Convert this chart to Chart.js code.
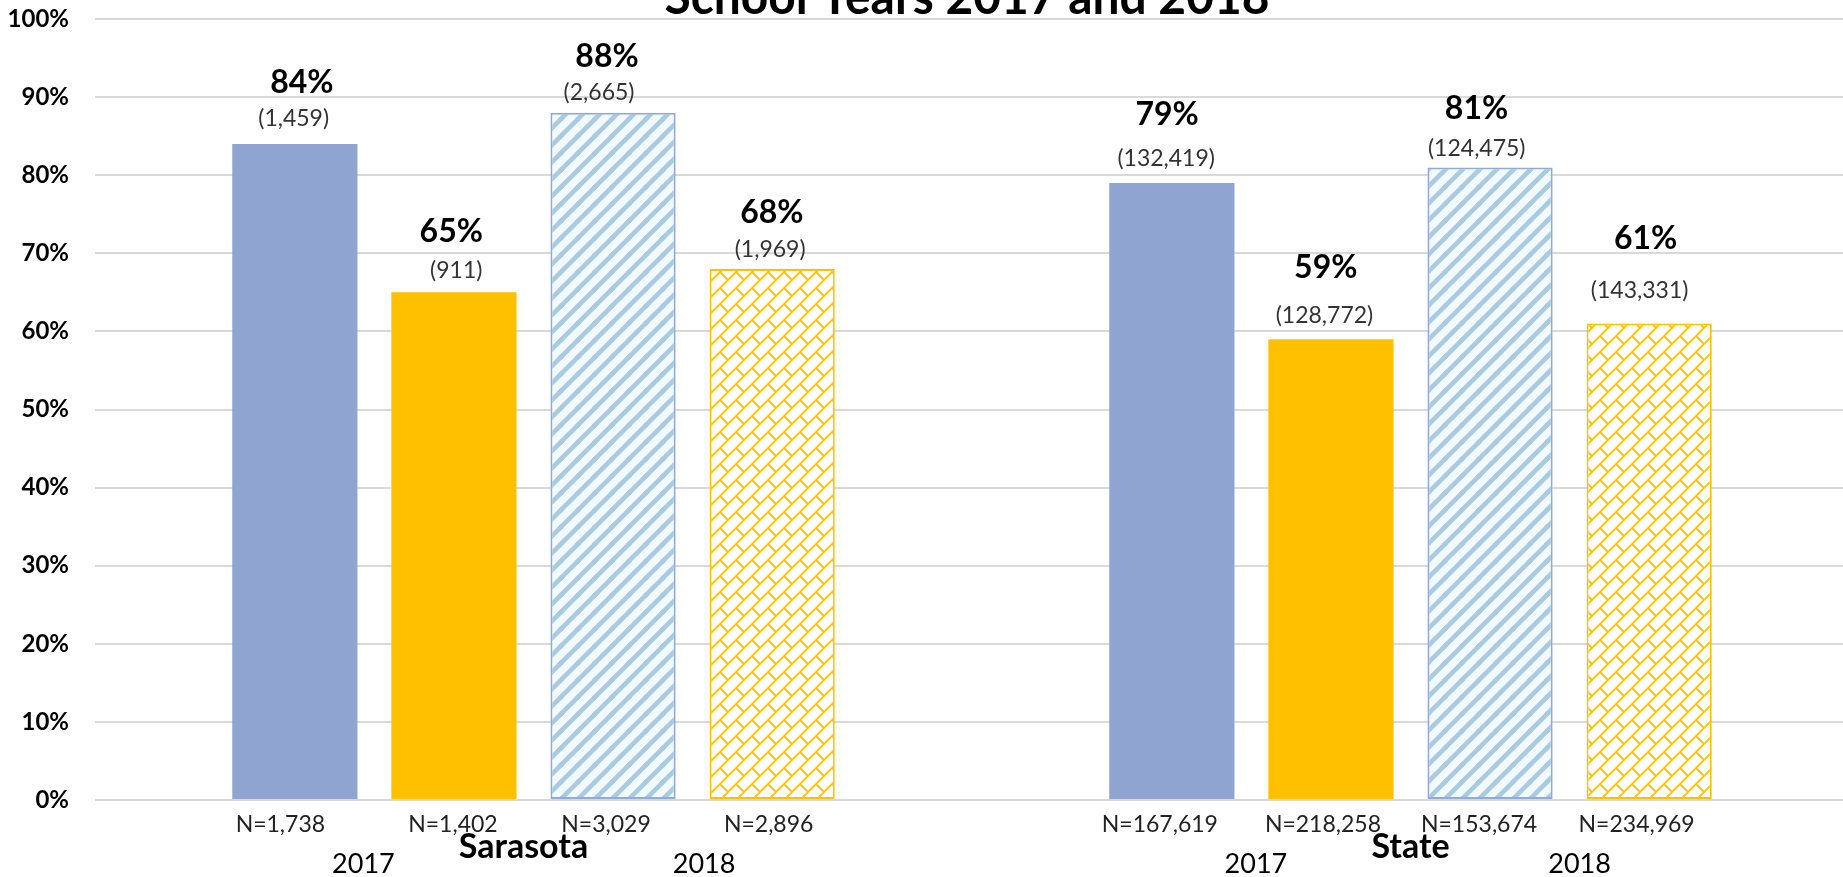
<!DOCTYPE html>
<html><head><meta charset="utf-8">
<script src="https://cdn.jsdelivr.net/npm/chart.js@4/dist/chart.umd.min.js"></script>
<style>
html,body{margin:0;padding:0;overflow:hidden;background:#fff;width:1843px;height:877px}
#wrap{position:absolute;left:0;top:0;width:1860px;height:877px}
</style></head><body>
<div id="wrap"><canvas id="c"></canvas></div>
<script>
// ---------- DATA ----------
const chartTitle = 'School Years 2017 and 2018';
const categories = ['Sarasota', 'State'];
const years = ['2017', '2018'];
const seriesNames = ['2017 Group 1', '2017 Group 2', '2018 Group 1', '2018 Group 2'];
const pct2017a = [84, 79];
const pct2017b = [65, 59];
const pct2018a = [88, 81];
const pct2018b = [68, 61];
const count2017a = [1459, 132419];
const count2017b = [911, 128772];
const count2018a = [2665, 124475];
const count2018b = [1969, 143331];
const n2017a = [1738, 167619];
const n2017b = [1402, 218258];
const n2018a = [3029, 153674];
const n2018b = [2896, 234969];
const yTickValues = [0, 10, 20, 30, 40, 50, 60, 70, 80, 90, 100];

// ---------- LABEL LAYOUT (pixel nudges, per category then per series) ----------
const pctBase  = [[-51, -50.6, -45.8, -45.7], [-58.3, -61, -48, -75]];
const pctDx    = [[7, -2.7, -6, -0.3], [-4.8, -5.2, -13.5, -3.5]];
const cntBase  = [[-18.3, -14.6, -13, -12.3], [-17.3, -16, -11.7, -25.6]];
const cntDx    = [[-1.2, 2.3, -14, -2], [-5.7, -6.5, -13.3, -9.5]];
const nDx      = [[-14.5, -1, -7, -3.5], [-12, -8, -11, -12.5]];
const catDx    = [-10, 0];
const yearDx   = [[-11, 11.5], [4.5, 10]];

const pctSeries = [pct2017a, pct2017b, pct2018a, pct2018b];
const cntSeries = [count2017a, count2017b, count2018a, count2018b];
const nSeries = [n2017a, n2017b, n2018a, n2018b];

// ---------- PATTERNS ----------
function stripePattern() {
  const s = 17, c = document.createElement('canvas');
  c.width = s; c.height = s;
  const g = c.getContext('2d');
  g.fillStyle = '#F1FAFD'; g.fillRect(0, 0, s, s);
  g.strokeStyle = '#A9CAE0'; g.lineWidth = 4.5; g.lineCap = 'square';
  g.beginPath();
  g.moveTo(-2, s + 2); g.lineTo(s + 2, -2);
  g.moveTo(-s / 2 - 2, s / 2 + 2); g.lineTo(s / 2 + 2, -s / 2 - 2);
  g.moveTo(s / 2 - 2, s * 1.5 + 2); g.lineTo(s * 1.5 + 2, s / 2 - 2);
  g.stroke();
  g.beginPath();
  g.moveTo(-2, 2); g.lineTo(2, -2);
  g.moveTo(s - 2, s + 2); g.lineTo(s + 2, s - 2);
  g.stroke();
  return g.createPattern(c, 'repeat');
}
function brickPattern() {
  const s = 16, c = document.createElement('canvas');
  c.width = s; c.height = s;
  const g = c.getContext('2d');
  g.fillStyle = '#FFFFFF'; g.fillRect(0, 0, s, s);
  g.strokeStyle = '#FFC000'; g.lineWidth = 1.8;
  g.beginPath();
  g.moveTo(-1, s + 1); g.lineTo(s + 1, -1);
  g.moveTo(-1, 1); g.lineTo(1, -1);
  g.moveTo(s - 1, s + 1); g.lineTo(s + 1, s - 1);
  g.moveTo(0, 0); g.lineTo(s / 2, s / 2);
  g.stroke();
  return g.createPattern(c, 'repeat');
}

const fills = ['#8FA4D1', '#FFC000', stripePattern(), brickPattern()];
const borders = ['#8FA4D1', '#FFC000', '#8FAADC', '#FFC000'];
const borderWidths = [0, 0, 2, 2];

const fmt = v => v.toLocaleString('en-US');

const labelPlugin = {
  id: 'customLabels',
  afterDatasetsDraw(chart) {
    const ctx = chart.ctx;
    const area = chart.chartArea;
    ctx.save();
    ctx.textAlign = 'center';
    ctx.textBaseline = 'alphabetic';
    for (let i = 0; i < pctSeries.length; i++) {
      const meta = chart.getDatasetMeta(i);
      for (let j = 0; j < categories.length; j++) {
        const bar = meta.data[j];
        const x = bar.x, top = bar.y;
        ctx.fillStyle = '#000';
        ctx.font = 'bold 32px Lato';
        ctx.fillText(pctSeries[i][j] + '%', x + pctDx[j][i], top + pctBase[j][i]);
        ctx.fillStyle = '#333';
        ctx.font = '23px Lato';
        ctx.fillText('(' + fmt(cntSeries[i][j]) + ')', x + cntDx[j][i], top + cntBase[j][i]);
        ctx.fillStyle = '#222';
        ctx.font = '23px Lato';
        ctx.fillText('N=' + fmt(nSeries[i][j]), x + nDx[j][i], area.bottom + 32);
      }
    }
    const xs = chart.scales.x;
    ctx.fillStyle = '#000';
    for (let j = 0; j < categories.length; j++) {
      ctx.font = 'bold 34px Lato';
      ctx.fillText(categories[j], xs.getPixelForValue(j) + catDx[j], area.bottom + 58);
      ctx.font = '27px Lato';
      for (let y = 0; y < years.length; y++) {
        const a = chart.getDatasetMeta(y * 2).data[j].x;
        const b = chart.getDatasetMeta(y * 2 + 1).data[j].x;
        ctx.fillText(years[y], (a + b) / 2 + yearDx[j][y], area.bottom + 73);
      }
    }
    ctx.font = 'bold 50px Lato';
    ctx.fillText(chartTitle, 967, area.top - 5.5, 605);
    ctx.restore();
  }
};

new Chart(document.getElementById('c'), {
  type: 'bar',
  data: {
    labels: categories,
    datasets: pctSeries.map((d, i) => ({
      label: seriesNames[i],
      data: d,
      backgroundColor: fills[i],
      borderColor: borders[i],
      borderWidth: borderWidths[i],
      borderSkipped: false,
      categoryPercentage: 0.7256,
      barPercentage: 0.787
    }))
  },
  options: {
    responsive: true,
    maintainAspectRatio: false,
    animation: false,
    devicePixelRatio: 1,
    layout: { padding: { top: 19, bottom: 77, left: 0, right: 11 } },
    plugins: { legend: { display: false }, tooltip: { enabled: false }, title: { display: false } },
    scales: {
      x: { display: false },
      y: {
        min: 0, max: 100,
        afterBuildTicks(s) { s.ticks = yTickValues.map(v => ({ value: v })); },
        afterFit(s) { s.width = 95; s.paddingTop = 0; s.paddingBottom = 0; },
        ticks: {
          callback: v => v + '%',
          color: '#000',
          padding: 26,
          font: { family: 'Lato', weight: 'bold', size: 24 }
        },
        grid: { color: '#D9D9D9', lineWidth: 2, drawTicks: false },
        border: { display: false }
      }
    }
  },
  plugins: [labelPlugin]
});
</script>
</body></html>
